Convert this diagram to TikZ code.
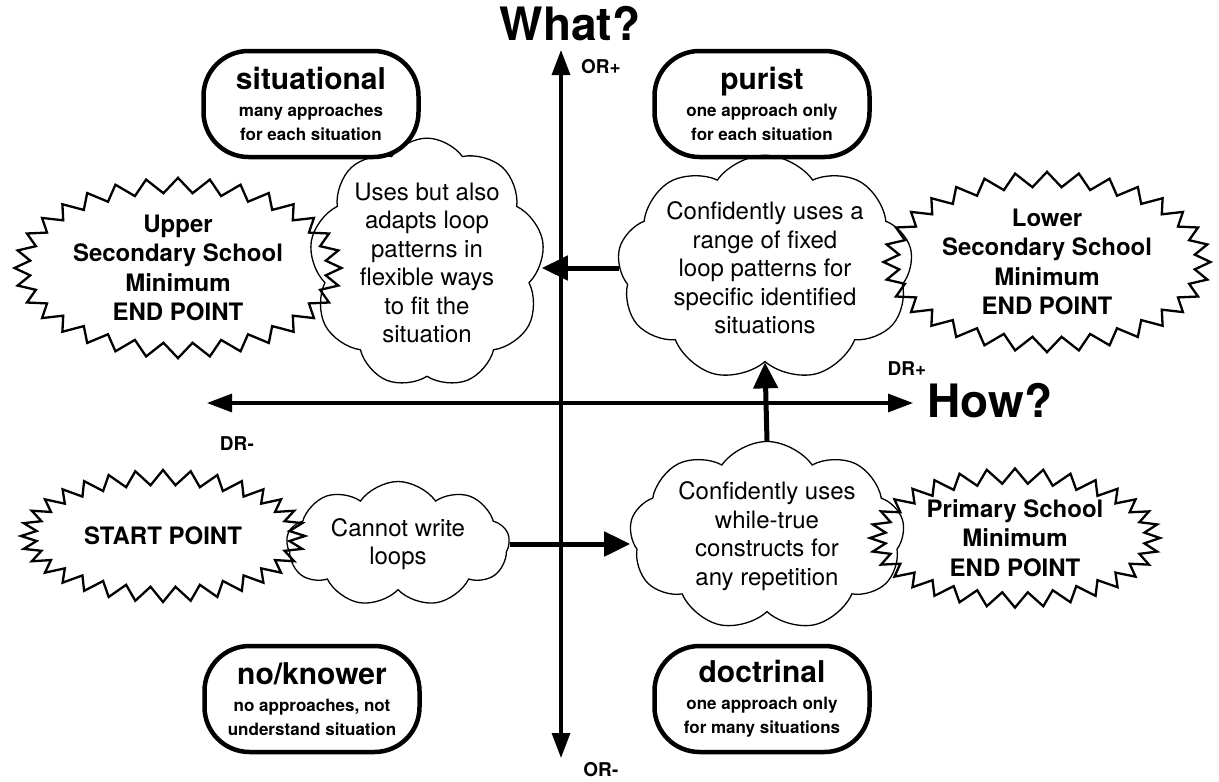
\documentclass[tikz,border=0pt]{standalone}
\usepackage{fontspec}
\setmainfont{TeX Gyre Heros}
\usetikzlibrary{shapes.symbols,arrows.meta}

\newcommand{\quadtitle}{\bfseries\fontsize{30}{34}\selectfont}
\newcommand{\quadsub}{\bfseries\fontsize{17}{24}\selectfont}

\tikzset{
  axisline/.style={line width=3.2pt, -{Triangle[length=25pt,width=18pt]}},
  flow/.style={line width=5pt, -{Triangle[length=26pt,width=24pt]}},
  quad/.style={draw, line width=4.5pt, rounded corners=45pt, minimum width=215pt,
    minimum height=106pt, align=center, inner sep=0pt, font=\quadsub},
  burst/.style={starburst, draw, line width=2.3pt, starburst points=32,
    starburst point height=15pt, random starburst=0, align=center, inner sep=0pt,
    font=\bfseries\fontsize{24}{29.5}\selectfont},
  thought/.style={cloud, draw, line width=1.3pt, cloud puffs=9, cloud puff arc=110,
    cloud ignores aspect, align=center, inner sep=0pt,
    font=\fontsize{24}{28.5}\selectfont},
  axlabel/.style={font=\bfseries\fontsize{19}{22}\selectfont, inner sep=0pt},
  bigword/.style={font=\bfseries\fontsize{46}{50}\selectfont, inner sep=0pt},
}

\begin{document}
\begin{tikzpicture}[x=1pt,y=-1pt]
\useasboundingbox (0,0) rectangle (1219,782);

% axes
\coordinate (origin) at (561,403);
\coordinate (ytop) at (561,50);
\coordinate (ybot) at (561,758);
\coordinate (xleft) at (207,403);
\coordinate (xright) at (913,403);
\draw[axisline] (origin) -- (ytop);
\draw[axisline] (origin) -- (ybot);
\draw[axisline] (origin) -- (xleft);
\draw[axisline] (origin) -- (xright);

\node[bigword] (what) at (570,24) {What?};
\node[bigword] (how) at (990,401) {How?};
\node[axlabel] (orp) at (601,67) {OR+};
\node[axlabel] (orm) at (601,770) {OR-};
\node[axlabel] (drp) at (907,369) {DR+};
\node[axlabel] (drm) at (237,444) {DR-};

% quadrant boxes
\node[quad] (situational) at (311,104)
  {{\quadtitle situational}\\[3pt]many approaches\\for each situation};
\node[quad] (purist) at (762,104)
  {{\quadtitle purist}\\[3pt]one approach only\\for each situation};
\node[quad] (noknower) at (312,699)
  {{\quadtitle no/knower}\\[3pt]no approaches, not\\understand situation};
\node[quad] (doctrinal) at (762,699)
  {{\quadtitle doctrinal}\\[3pt]one approach only\\for many situations};

% end points
\node[burst, minimum width=318pt, minimum height=175pt] (upper) at (178,268)
  {Upper\\Secondary School\\Minimum\\END POINT};
\node[burst, minimum width=320pt, minimum height=175pt] (lower) at (1047,262)
  {Lower\\Secondary School\\Minimum\\END POINT};
\node[burst, minimum width=284pt, minimum height=132pt] (start) at (163,536)
  {START POINT};
\node[burst, minimum width=290pt, minimum height=135pt] (primary) at (1015,538)
  {Primary School\\Minimum\\END POINT};

% stages
\node[thought, minimum width=235pt, minimum height=178pt] (uses) at (427,263)
  {Uses but also\\adapts loop\\patterns in\\flexible ways\\to fit the\\situation};
\node[thought, minimum width=285pt, minimum height=165pt] (range) at (765,268)
  {Confidently uses a\\range of fixed\\loop patterns for\\specific identified\\situations};
\node[thought, minimum width=223pt, minimum height=125pt] (cannot) at (398,544)
  {Cannot write\\loops};
\node[thought, minimum width=275pt, minimum height=175pt] (whiletrue) at (767,536)
  {Confidently uses\\while-true\\constructs for\\any repetition};

% progression
\draw[flow] (cannot.east) -- (cannot.east -| whiletrue.west);
\draw[flow] (whiletrue.north) -- (range.south);
\draw[flow] (range.west) -- (range.west -| uses.east);
\end{tikzpicture}
\end{document}
